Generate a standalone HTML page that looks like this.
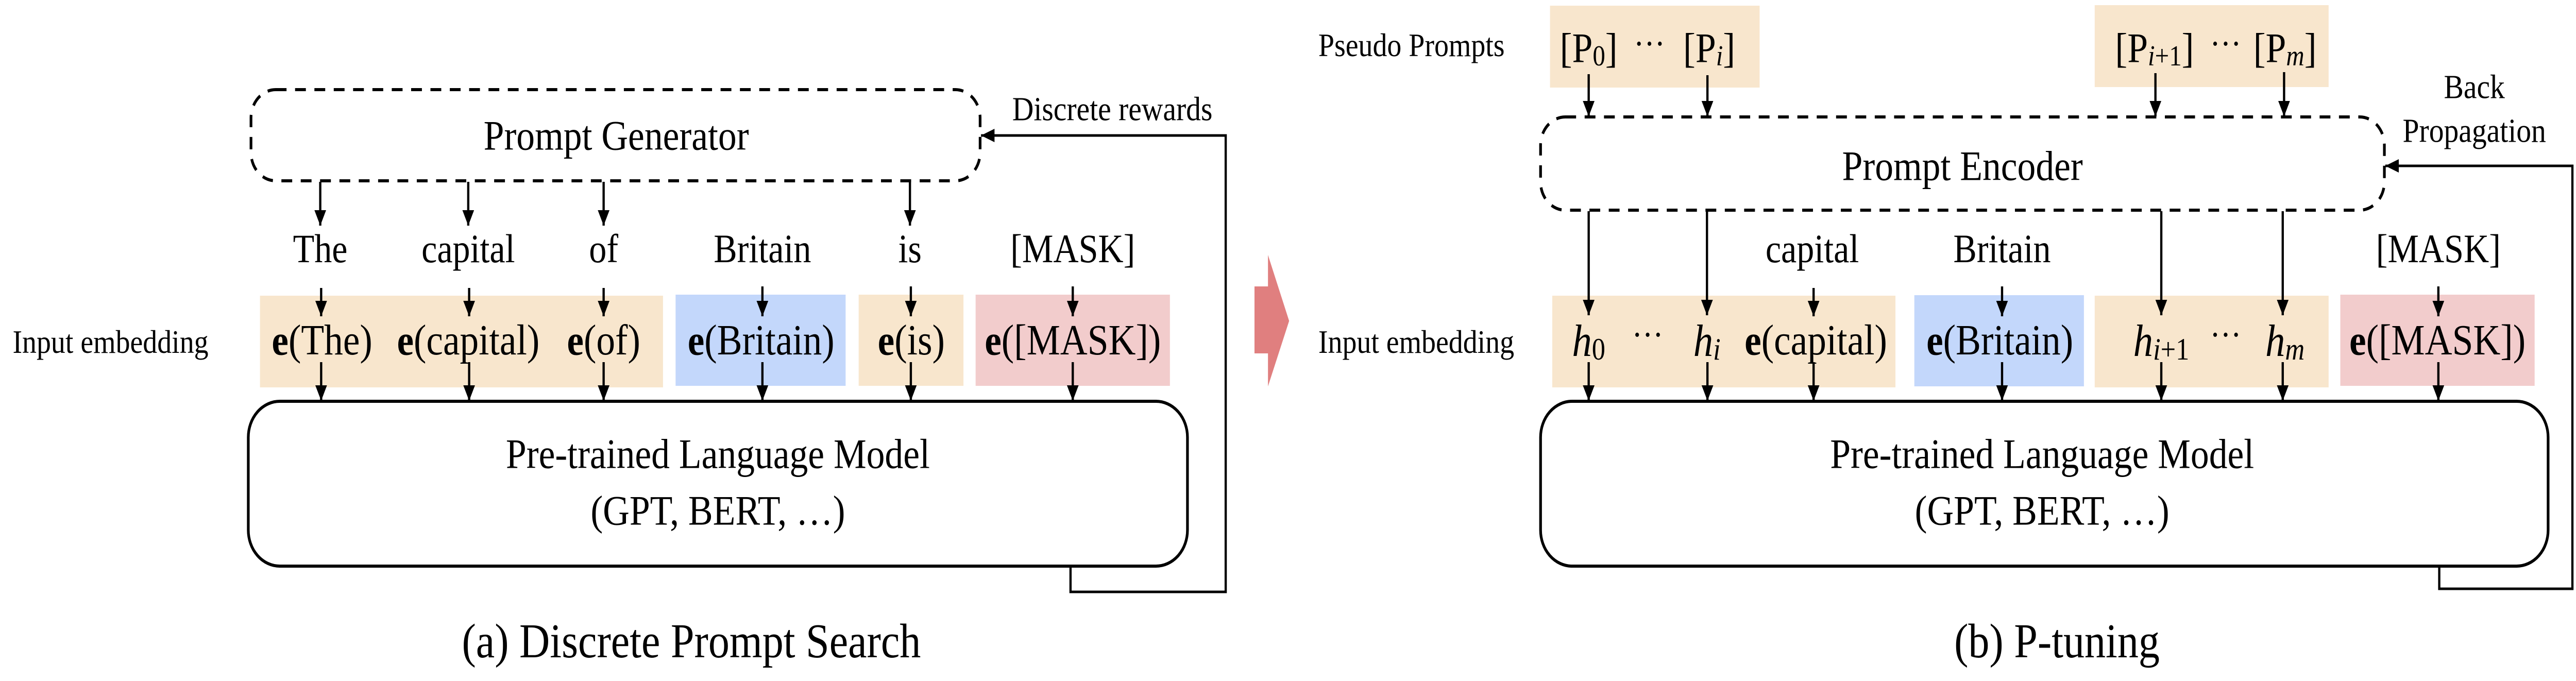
<!DOCTYPE html>
<html><head><meta charset="utf-8"><style>
html,body{margin:0;padding:0;background:#fff;width:100%;height:100%;overflow:hidden;}
svg{display:block;width:100vw;height:100vh;}
text{font-family:"Liberation Serif",serif;fill:#000;}
</style></head><body>
<svg viewBox="0 0 5727 1322" preserveAspectRatio="none" xmlns="http://www.w3.org/2000/svg">
<defs>
<marker id="ah" markerUnits="userSpaceOnUse" markerWidth="32" markerHeight="28" refX="30" refY="13" orient="auto">
<path d="M0,0 L30,13 L0,26 Z" fill="#000"/>
</marker>
</defs>
<g stroke="none">
<rect x="578" y="574" width="896" height="178" fill="#f8e6cd"/>
<rect x="1502" y="572" width="378" height="177" fill="#c3d7fb"/>
<rect x="1909" y="572" width="233" height="177" fill="#f8e6cd"/>
<rect x="2169" y="572" width="432" height="177" fill="#f2cccc"/>
<rect x="3446" y="11" width="466" height="159" fill="#f8e6cd"/>
<rect x="4657" y="10" width="520" height="159" fill="#f8e6cd"/>
<rect x="3451" y="574" width="763" height="178" fill="#f8e6cd"/>
<rect x="4256" y="573" width="377" height="177" fill="#c3d7fb"/>
<rect x="4657" y="574" width="520" height="178" fill="#f8e6cd"/>
<rect x="5203" y="572" width="432" height="177" fill="#f2cccc"/>
<path d="M2789,556 L2819,556 L2819,495 L2866,623 L2819,750 L2819,686 L2789,686 Z" fill="#e07f7f"/>
</g>

<g fill="none" stroke="#000" stroke-width="6">
<rect x="558" y="174" width="1621" height="177" rx="55" stroke-dasharray="24,19"/>
<rect x="552" y="779" width="2088" height="320" rx="70"/>
<rect x="3425" y="227" width="1876" height="181" rx="55" stroke-dasharray="24,19"/>
<rect x="3425" y="779" width="2240" height="320" rx="70"/>
</g>

<g fill="none" stroke="#000" stroke-width="5" marker-end="url(#ah)">
<line x1="712" y1="353" x2="712" y2="438"/>
<line x1="1041" y1="353" x2="1041" y2="438"/>
<line x1="1342" y1="353" x2="1342" y2="438"/>
<line x1="2023" y1="353" x2="2023" y2="438"/>
<line x1="714" y1="559" x2="714" y2="614"/>
<line x1="1043" y1="559" x2="1043" y2="614"/>
<line x1="1342" y1="559" x2="1342" y2="614"/>
<line x1="1695" y1="556" x2="1695" y2="614"/>
<line x1="2025" y1="556" x2="2025" y2="614"/>
<line x1="2385" y1="556" x2="2385" y2="614"/>
<line x1="714" y1="703" x2="714" y2="778"/>
<line x1="1043" y1="703" x2="1043" y2="778"/>
<line x1="1342" y1="703" x2="1342" y2="778"/>
<line x1="1695" y1="703" x2="1695" y2="778"/>
<line x1="2025" y1="703" x2="2025" y2="778"/>
<line x1="2385" y1="703" x2="2385" y2="778"/>
<polyline points="2380,1101 2380,1149 2725,1149 2725,263 2181,263"/>

<line x1="3532" y1="144" x2="3532" y2="226"/>
<line x1="3796" y1="146" x2="3796" y2="226"/>
<line x1="4792" y1="142" x2="4792" y2="226"/>
<line x1="5078" y1="140" x2="5078" y2="226"/>
<line x1="3532" y1="410" x2="3532" y2="612"/>
<line x1="3795" y1="410" x2="3795" y2="612"/>
<line x1="4805" y1="410" x2="4805" y2="612"/>
<line x1="5075" y1="410" x2="5075" y2="612"/>
<line x1="4032" y1="559" x2="4032" y2="614"/>
<line x1="4451" y1="556" x2="4451" y2="614"/>
<line x1="5421" y1="556" x2="5421" y2="614"/>
<line x1="3532" y1="703" x2="3532" y2="778"/>
<line x1="3796" y1="703" x2="3796" y2="778"/>
<line x1="4032" y1="703" x2="4032" y2="778"/>
<line x1="4451" y1="703" x2="4451" y2="778"/>
<line x1="4805" y1="703" x2="4805" y2="778"/>
<line x1="5075" y1="703" x2="5075" y2="778"/>
<line x1="5421" y1="703" x2="5421" y2="778"/>
<polyline points="5423,1101 5423,1143 5719,1143 5719,322 5303,322"/>
</g>

<g font-size="82" text-anchor="middle" dominant-baseline="central">
<text x="1370" y="263">Prompt Generator</text>
<text x="4363" y="322">Prompt Encoder</text>
<text x="1596" y="881">Pre-trained Language Model</text>
<text x="1596" y="991">(GPT, BERT, …)</text>
<text x="4540" y="881">Pre-trained Language Model</text>
<text x="4540" y="991">(GPT, BERT, …)</text>

<text x="712" y="483" font-size="78">The</text>
<text x="1041" y="483" font-size="78">capital</text>
<text x="1342" y="483" font-size="78">of</text>
<text x="1695" y="483" font-size="78">Britain</text>
<text x="2023" y="483" font-size="78">is</text>
<text x="2385" y="483" font-size="78">[MASK]</text>
<text x="4029" y="483" font-size="78">capital</text>
<text x="4451" y="483" font-size="78">Britain</text>
<text x="5421" y="483" font-size="78">[MASK]</text>

<text x="716" y="661" font-size="84"><tspan font-weight="bold">e</tspan>(The)</text>
<text x="1041" y="661" font-size="84"><tspan font-weight="bold">e</tspan>(capital)</text>
<text x="1342" y="661" font-size="84"><tspan font-weight="bold">e</tspan>(of)</text>
<text x="1692" y="661" font-size="84"><tspan font-weight="bold">e</tspan>(Britain)</text>
<text x="2026" y="661" font-size="84"><tspan font-weight="bold">e</tspan>(is)</text>
<text x="2385" y="661" font-size="84"><tspan font-weight="bold">e</tspan>([MASK])</text>

<text x="4037" y="661" font-size="84"><tspan font-weight="bold">e</tspan>(capital)</text>
<text x="4446" y="661" font-size="84"><tspan font-weight="bold">e</tspan>(Britain)</text>
<text x="5419" y="661" font-size="84"><tspan font-weight="bold">e</tspan>([MASK])</text>

<text x="3532" y="661" font-size="88"><tspan font-style="italic">h</tspan><tspan font-size="60" dy="18">0</tspan></text>
<text x="3663" y="650" font-size="70">···</text>
<text x="3795" y="661" font-size="88"><tspan font-style="italic">h</tspan><tspan font-size="60" dy="18" font-style="italic">i</tspan></text>
<text x="4805" y="661" font-size="88"><tspan font-style="italic">h</tspan><tspan font-size="60" dy="18"><tspan font-style="italic">i</tspan>+1</tspan></text>
<text x="4948" y="650" font-size="70">···</text>
<text x="5080" y="661" font-size="88"><tspan font-style="italic">h</tspan><tspan font-size="60" dy="18" font-style="italic">m</tspan></text>

<text x="3532" y="93" font-size="82">[P<tspan font-size="56" dy="16">0</tspan><tspan dy="-16">]</tspan></text>
<text x="3667" y="85" font-size="70">···</text>
<text x="3800" y="93" font-size="82">[P<tspan font-size="56" dy="16" font-style="italic">i</tspan><tspan dy="-16">]</tspan></text>
<text x="4790" y="93" font-size="82">[P<tspan font-size="56" dy="16"><tspan font-style="italic">i</tspan>+1</tspan><tspan dy="-16">]</tspan></text>
<text x="4948" y="85" font-size="70">···</text>
<text x="5080" y="93" font-size="82">[P<tspan font-size="56" dy="16" font-style="italic">m</tspan><tspan dy="-16">]</tspan></text>

<text x="2473" y="212" font-size="66">Discrete rewards</text>
<text x="5501" y="169" font-size="66">Back</text>
<text x="5501" y="254" font-size="66">Propagation</text>

<text x="1537" y="1245" font-size="94">(a) Discrete Prompt Search</text>
<text x="4573" y="1245" font-size="94">(b) P-tuning</text>
</g>
<g font-size="64" dominant-baseline="central">
<text x="28" y="663">Input embedding</text>
<text x="2931" y="663">Input embedding</text>
<text x="2931" y="87">Pseudo Prompts</text>
</g>
</svg>
</body></html>
